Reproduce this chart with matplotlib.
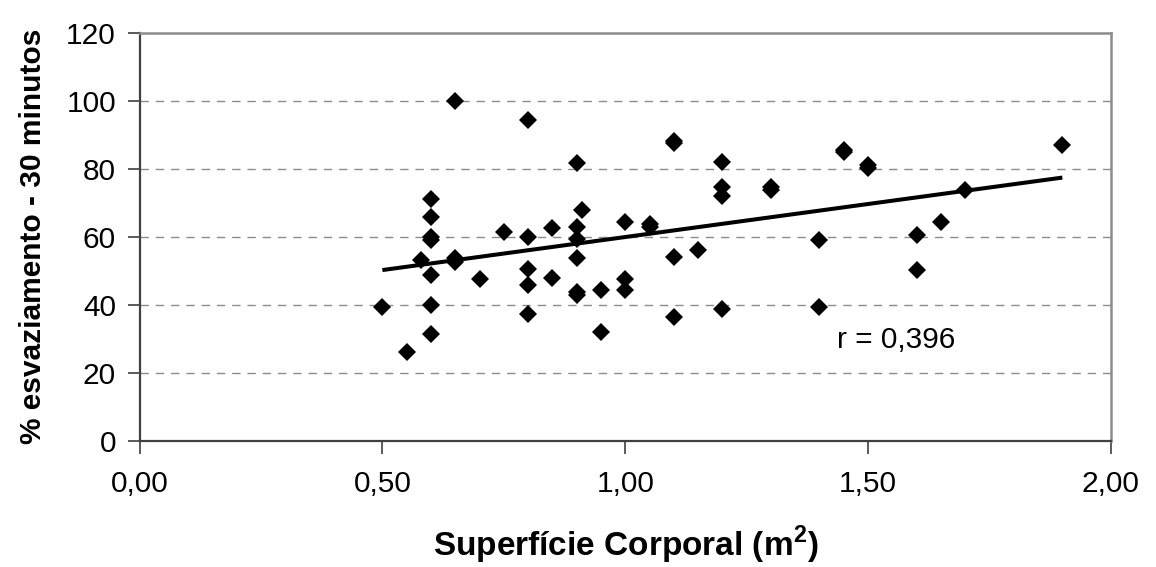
import numpy as np
import matplotlib
matplotlib.use("Agg")
import matplotlib.pyplot as plt

# Data
superficie = [0.50, 0.55, 0.58, 0.60, 0.60, 0.60, 0.60, 0.60, 0.60, 0.60,
              0.65, 0.65, 0.65, 0.70, 0.75, 0.80, 0.80, 0.80, 0.80, 0.80,
              0.85, 0.85, 0.90, 0.91, 0.90, 0.90, 0.90, 0.90, 0.90, 0.95,
              0.95, 1.00, 1.00, 1.00, 1.05, 1.05, 1.10, 1.10, 1.10, 1.10,
              1.15, 1.20, 1.20, 1.20, 1.20, 1.30, 1.30, 1.40, 1.40, 1.45,
              1.45, 1.50, 1.50, 1.60, 1.60, 1.65, 1.70, 1.90]
esvaziamento = [39.2, 26.1, 53.3, 71.0, 65.7, 60.0, 59.0, 48.7, 39.9, 31.3,
                100.0, 53.6, 52.6, 47.5, 61.3, 94.2, 59.8, 50.4, 45.8, 37.2,
                62.7, 48.0, 81.8, 67.8, 62.9, 59.2, 53.8, 43.8, 42.8, 44.3,
                31.9, 64.2, 47.5, 44.3, 63.6, 62.8, 88.2, 87.6, 54.1, 36.3,
                56.1, 81.9, 74.7, 72.1, 38.6, 74.5, 73.7, 59.0, 39.2, 85.6,
                84.8, 81.0, 80.2, 60.6, 50.2, 64.2, 73.7, 87.0]

x_ticks = [0.0, 0.5, 1.0, 1.5, 2.0]
x_ticklabels = ["0,00", "0,50", "1,00", "1,50", "2,00"]
y_ticks = [0, 20, 40, 60, 80, 100, 120]
y_ticklabels = ["0", "20", "40", "60", "80", "100", "120"]
r_label = "r = 0,396"

plt.rcParams['font.family'] = ['Liberation Sans', 'DejaVu Sans']
plt.rcParams['mathtext.fontset'] = 'custom'
plt.rcParams['mathtext.rm'] = 'Liberation Sans'
plt.rcParams['mathtext.bf'] = 'Liberation Sans:bold'

fig = plt.figure(figsize=(11.56, 5.67), dpi=100)
ax = fig.add_axes([0.1207, 0.2227, 0.8403, 0.7196])

xs = np.array(superficie)
ys = np.array(esvaziamento)
slope, intercept = np.polyfit(xs, ys, 1)
xl = np.array([xs.min(), xs.max()])
ax.plot(xl, slope * xl + intercept, color='black', lw=2.9, zorder=3,
        solid_capstyle='butt')
ax.plot(xs, ys, linestyle='none', marker='D', markersize=9.2,
        markerfacecolor='black', markeredgewidth=0, zorder=4)

ax.set_xlim(0, 2.0)
ax.set_ylim(0, 120)
ax.set_xticks(x_ticks)
ax.set_xticklabels(x_ticklabels)
ax.set_yticks(y_ticks)
ax.set_yticklabels(y_ticklabels)
ax.tick_params(axis='both', direction='out', length=9, width=1.2,
               color='#404040', labelsize=21.5, pad=8)
ax.tick_params(axis='x', pad=12)

for y in y_ticks[1:-1]:
    ax.axhline(y, color='#8c8c8c', lw=1.0, linestyle=(0, (6, 5)), zorder=1)

ax.spines['left'].set_color('#404040')
ax.spines['bottom'].set_color('#404040')
ax.spines['left'].set_linewidth(1.6)
ax.spines['bottom'].set_linewidth(1.6)
ax.spines['top'].set_color('#8c8c8c')
ax.spines['right'].set_color('#8c8c8c')
ax.spines['top'].set_linewidth(1.8)
ax.spines['right'].set_linewidth(1.8)

ax.text(1.436, 29.6, r_label, fontsize=21.5, va='center', ha='left')

ax.set_xlabel(r"Superfície Corporal (m$^\mathbf{2}$)", fontsize=24,
              fontweight='bold', labelpad=19)
ax.set_ylabel("% esvaziamento - 30 minutos", fontsize=21.5, fontweight='bold',
              labelpad=14)

fig.savefig("out.png", dpi=100)
